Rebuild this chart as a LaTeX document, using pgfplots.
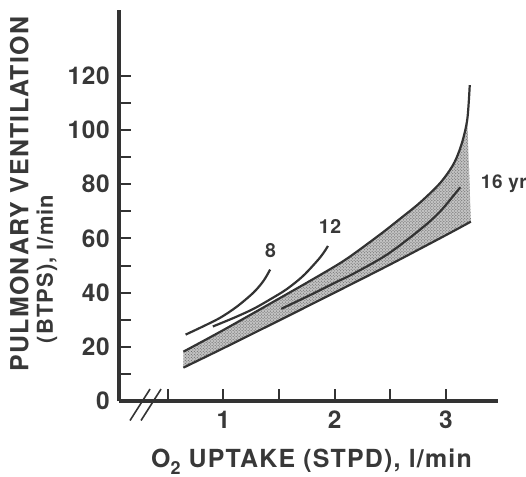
\documentclass[border=0pt]{standalone}
\usepackage{pgfplots}
\usepackage{pgfplotstable}
\pgfplotsset{compat=1.18}
\usepgfplotslibrary{fillbetween}
\usetikzlibrary{patterns}
\usepackage{fontspec}
\setmainfont{TeX Gyre Heros}
\definecolor{ink}{HTML}{333333}
\definecolor{txt}{HTML}{383838}

\pgfplotstableread{
x y
0.64 18.2
1.0 26.2
1.5 37.8
1.87 46.5
2.11 52.5
2.41 61.5
2.59 67.3
2.77 73.3
2.95 80.5
3.07 87.5
3.143 95
3.193 104
3.215 116.6
}\bandupper
\pgfplotstableread{
x y
0.64 12.3
1.0 19.5
1.5 29.7
2.0 40.0
2.5 50.4
3.0 61.2
3.225 66.2
}\bandlower

\begin{document}
\begin{tikzpicture}
\begin{axis}[
  at={(0,0)}, anchor=south west,
  scale only axis, width=379bp, height=391bp,
  xmin=0.061, xmax=3.469, ymin=0, ymax=144.3,
  clip=false,
  axis x line*=bottom, axis y line*=left,
  axis line style={line width=3bp, color=ink},
  xtick={1,2,3}, minor xtick={0.5,1.5,2.5},
  ytick={0,20,...,120}, minor ytick={10,30,...,110},
  tick align=inside,
  major tick length=12bp, minor tick length=12bp,
  every tick/.append style={line width=2bp, color=ink},
  every minor tick/.append style={line width=2bp, color=ink},
  /pgf/number format/assume math mode=true,
  ticklabel style={font=\fontsize{24.5}{24.5}\selectfont\bfseries\addfontfeature{LetterSpace=3}, text=txt, inner sep=0pt},
  xticklabel style={anchor=north, yshift=-10bp},
  yticklabel style={anchor=east, xshift=-9bp},
]
% invisible boundary paths for the shaded band
\addplot[draw=none, name path=Ufill, smooth, restrict x to domain=0.6:3.2] table {\bandupper};
\addplot[draw=none, name path=Lfill, smooth] table {\bandlower};
\addplot[fill=black!24, draw=none] fill between[of=Ufill and Lfill];
\addplot[pattern=crosshatch dots, pattern color=black!65, draw=none] fill between[of=Ufill and Lfill];
% visible boundaries
\addplot[ink, line width=2.2bp, smooth] table {\bandupper};
\addplot[ink, line width=2.2bp, smooth] table {\bandlower};
% 16 yr curve inside band
\addplot[ink, line width=2.2bp, smooth] coordinates {
 (1.52,34.0) (1.8,39.5) (2.02,44.0) (2.17,47.0) (2.47,54.0) (2.77,63.3) (2.95,70) (3.13,78.9)};
% 8 yr
\addplot[ink, line width=2.2bp, smooth] coordinates {
 (0.66,24.5) (0.8,27.2) (0.97,30.7) (1.12,34.8) (1.27,40.0) (1.36,44.3) (1.42,48.5)};
% 12 yr
\addplot[ink, line width=2.2bp, smooth] coordinates {
 (0.905,27.5) (1.1,30.8) (1.27,34.0) (1.42,37.5) (1.57,41.3) (1.72,46.3) (1.87,53.0) (1.94,57.2)};
% axis break marks
\addplot[ink, line width=1.6bp] coordinates {(0.160,-7.2) (0.340,4.4)};
\addplot[ink, line width=1.6bp] coordinates {(0.259,-7.2) (0.439,4.4)};
% curve labels
\node[font=\fontsize{19.5}{19.5}\selectfont\bfseries, text=txt, inner sep=0pt] at (axis cs:1.424,55.6) {8};
\node[font=\fontsize{19.5}{19.5}\selectfont\bfseries\addfontfeature{LetterSpace=3}, text=txt, inner sep=0pt] at (axis cs:1.959,64.5) {12};
\node[anchor=base west, font=\fontsize{19}{19}\selectfont\bfseries\addfontfeature{LetterSpace=3}, text=txt, inner sep=0pt] at (axis cs:3.314,78.5) {16 yr};
\end{axis}
\node[rotate=90, anchor=base, font=\fontsize{25}{25}\selectfont\bfseries\addfontfeature{LetterSpace=5}, text=txt, inner sep=0pt] at (-90.5bp,207bp) {PULMONARY VENTILATION};
\node[rotate=90, anchor=base, font=\fontsize{22}{22}\selectfont\bfseries\addfontfeature{LetterSpace=5}, text=txt, inner sep=0pt] at (-66bp,132bp) {(BTPS), l/min};
\node[anchor=base, font=\fontsize{25}{25}\selectfont\bfseries\addfontfeature{LetterSpace=5}, text=txt, inner sep=0pt] at (192.5bp,-66.5bp) {O\raisebox{-7bp}{\fontsize{18}{18}\selectfont 2} UPTAKE (STPD), l/min};
\pgfresetboundingbox
\path[use as bounding box] (-119bp,-76bp) rectangle (407bp,401bp);
\end{tikzpicture}
\end{document}
